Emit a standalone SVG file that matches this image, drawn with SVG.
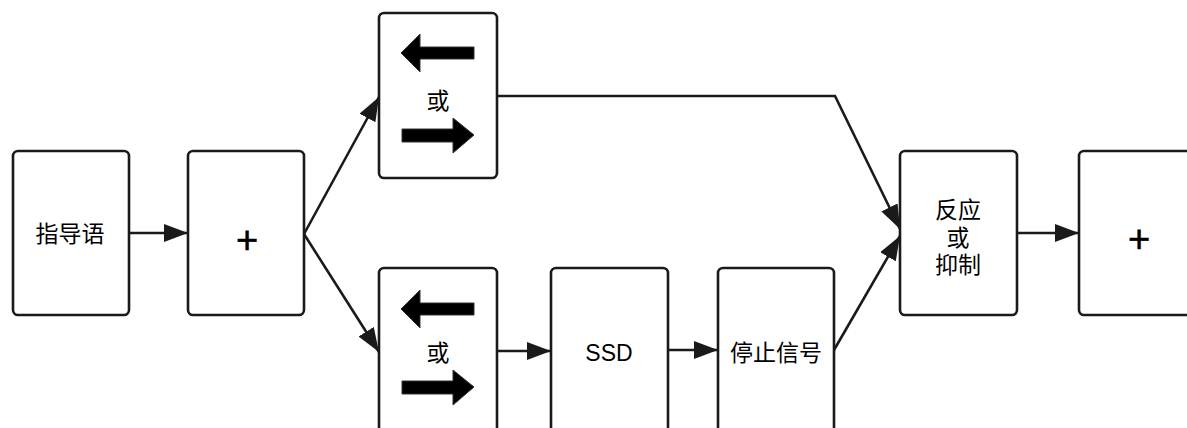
<svg xmlns="http://www.w3.org/2000/svg" width="1187" height="428" viewBox="0 0 1187 428">
<style>
.box{fill:#fff;stroke:#1a1a1a;stroke-width:2.6}
.t{font-family:"Liberation Sans","Noto Sans CJK SC",sans-serif;font-size:23px;fill:#000;text-anchor:middle}
.plus{font-family:"Liberation Sans",sans-serif;font-size:38px;fill:#000;text-anchor:middle;stroke:#000;stroke-width:0.6}
.c{fill:none;stroke:#1a1a1a;stroke-width:2.6}
.big{fill:#000;stroke:#333;stroke-width:1}
</style>
<defs>
<marker id="ah" markerUnits="userSpaceOnUse" markerWidth="26" markerHeight="20" refX="24" refY="9" orient="auto">
<path d="M0,0 L24,9 L0,18 Z" fill="#1a1a1a"/>
</marker>
</defs>
<g id="n1"><rect class="box" x="13" y="151" width="116" height="164" rx="5"/><text class="t" x="70" y="242">指导语</text></g>
<g id="n2"><rect class="box" x="188" y="151" width="116" height="164" rx="5"/><text class="plus" x="247" y="253">+</text></g>
<g id="n3"><rect class="box" x="379" y="13" width="118" height="165" rx="5"/>
<polygon class="big" points="401,53 420,34 420,47 474,47 474,59 420,59 420,72"/>
<text class="t" x="438" y="109">或</text>
<polygon class="big" points="402,129 453,129 453,118 474,135 453,153 453,142 402,142"/></g>
<g id="n4"><rect class="box" x="379" y="268" width="118" height="165" rx="5"/>
<polygon class="big" points="401,309 420,290 420,303 474,303 474,315 420,315 420,328"/>
<text class="t" x="438" y="361">或</text>
<polygon class="big" points="402,381 453,381 453,370 474,387 453,405 453,394 402,394"/></g>
<g id="n5"><rect class="box" x="551" y="268" width="117" height="165" rx="5"/><text class="t" x="609" y="361">SSD</text></g>
<g id="n6"><rect class="box" x="718" y="268" width="116" height="165" rx="5"/><text class="t" x="776" y="361">停止信号</text></g>
<g id="n7"><rect class="box" x="900" y="151" width="117" height="164" rx="5"/>
<text class="t" x="958" y="218">反应</text><text class="t" x="958" y="246">或</text><text class="t" x="958" y="273">抑制</text></g>
<g id="n8"><rect class="box" x="1079" y="151" width="120" height="164" rx="5"/><text class="plus" x="1139" y="252">+</text></g>
<g id="connectors">
<path class="c" d="M129,233 L188,233" marker-end="url(#ah)"/>
<path class="c" d="M304,234 L379,97" marker-end="url(#ah)"/>
<path class="c" d="M304,234 L379,352" marker-end="url(#ah)"/>
<path class="c" d="M497,96 L835,96 L900,229" marker-end="url(#ah)"/>
<path class="c" d="M497,351 L551,351" marker-end="url(#ah)"/>
<path class="c" d="M668,350 L718,350" marker-end="url(#ah)"/>
<path class="c" d="M834,350 L900,236" marker-end="url(#ah)"/>
<path class="c" d="M1017,233 L1079,233" marker-end="url(#ah)"/>
</g>
</svg>
